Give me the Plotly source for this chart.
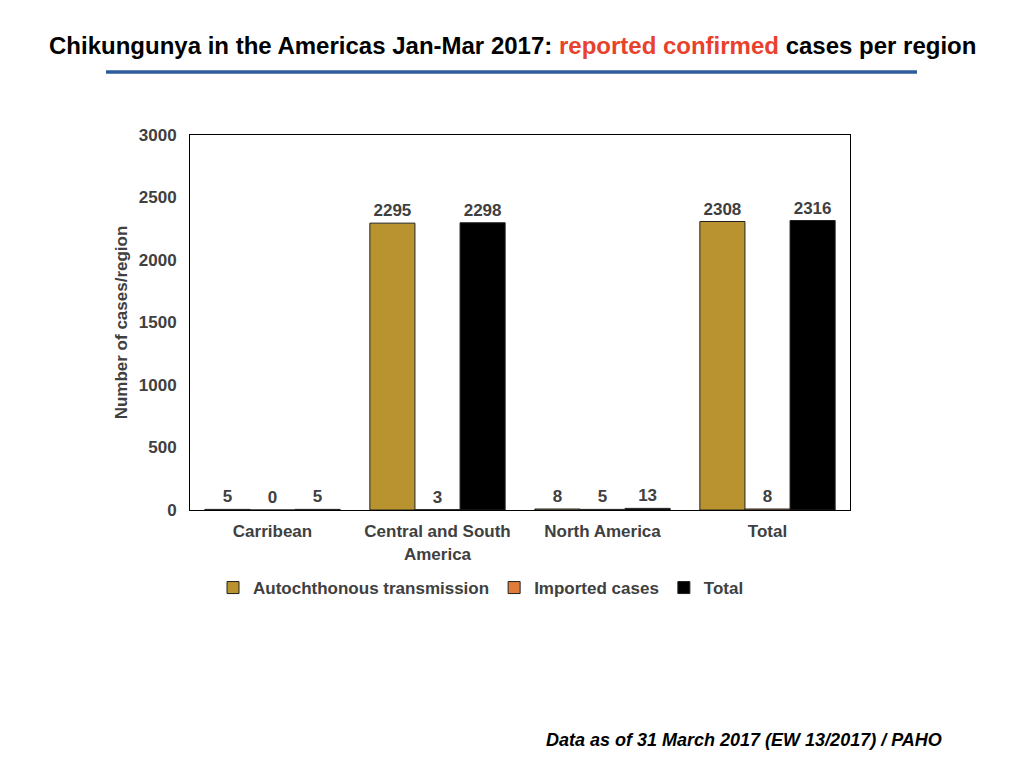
import plotly.graph_objects as go

categories = ["Carribean", "Central and South<br>America", "North America", "Total"]
autochthonous = [5, 2295, 8, 2308]
imported = [0, 3, 5, 8]
total = [5, 2298, 13, 2316]
y_ticks = [0, 500, 1000, 1500, 2000, 2500, 3000]

FONT = "Liberation Sans, Arial, sans-serif"
GRAY = "#404040"

# page body has an 8px default margin; compensate so plot area lands at 190..850 x 135..510
OFF = 8
L, R, T, B = 190, 850, 135, 510
PW, PH = R - L, B - T

fig = go.Figure()
series = [
    ("Autochthonous transmission", autochthonous, "#B8932F"),
    ("Imported cases", imported, "#E07B39"),
    ("Total", total, "#000000"),
]
for name, vals, color in series:
    fig.add_trace(go.Bar(
        name=name, x=categories, y=vals,
        marker=dict(color=color, line=dict(color="#222222", width=1)),
        text=vals, texttemplate="<b>%{text}</b>", textposition="outside",
        textfont=dict(family=FONT, size=17, color=GRAY),
        cliponaxis=False,
    ))

fig.update_layout(
    width=1024, height=768,
    margin=dict(l=L - OFF, r=1024 - R + OFF, t=T - OFF, b=768 - B + OFF),
    paper_bgcolor="white", plot_bgcolor="white",
    barmode="group", bargap=0.18, bargroupgap=0,
    font=dict(family=FONT, color=GRAY),
    showlegend=True,
    legend=dict(
        orientation="h", x=(481 - L) / PW, xanchor="center",
        y=(B - 588) / PH, yanchor="middle",
        font=dict(family=FONT, size=17, color=GRAY, weight="bold"),
        itemwidth=30, traceorder="normal",
    ),
    xaxis=dict(
        showline=True, linecolor="black", linewidth=1, mirror=True,
        tickfont=dict(family=FONT, size=17, color=GRAY, weight="bold"),
        ticks="", showgrid=False, ticklabelstandoff=6,
    ),
    yaxis=dict(
        range=[0, 3000], tickvals=y_ticks,
        showline=True, linecolor="black", linewidth=1, mirror=True,
        showgrid=False, zeroline=False, ticks="", ticklabelstandoff=9,
        tickfont=dict(family=FONT, size=17, color=GRAY, weight="bold"),
        title=dict(text="<b>Number of cases/region</b>", standoff=6,
                   font=dict(family=FONT, size=17, color=GRAY)),
    ),
)

fig.add_annotation(
    xref="paper", yref="paper", x=(512 - L) / PW, y=1 + (T - 45) / PH,
    xanchor="center", yanchor="middle", showarrow=False,
    text="<b>Chikungunya in the Americas Jan-Mar 2017: <span style='color:#E8412C'>reported confirmed</span> cases per region</b>",
    font=dict(family=FONT, size=24, color="black"),
)
fig.add_shape(
    type="line", xref="paper", yref="paper",
    x0=(106 - L) / PW, x1=(917 - L) / PW,
    y0=1 + (T - 72) / PH, y1=1 + (T - 72) / PH,
    line=dict(color="#2E5C9A", width=3.5),
)
fig.add_annotation(
    xref="paper", yref="paper", x=(944 - L) / PW, y=(B - 740) / PH,
    xanchor="right", yanchor="middle", showarrow=False,
    text="<b><i>Data as of 31 March 2017 (EW 13/2017) / PAHO</i></b>",
    font=dict(family=FONT, size=18, color="black"),
)

fig.write_html("out.html")
